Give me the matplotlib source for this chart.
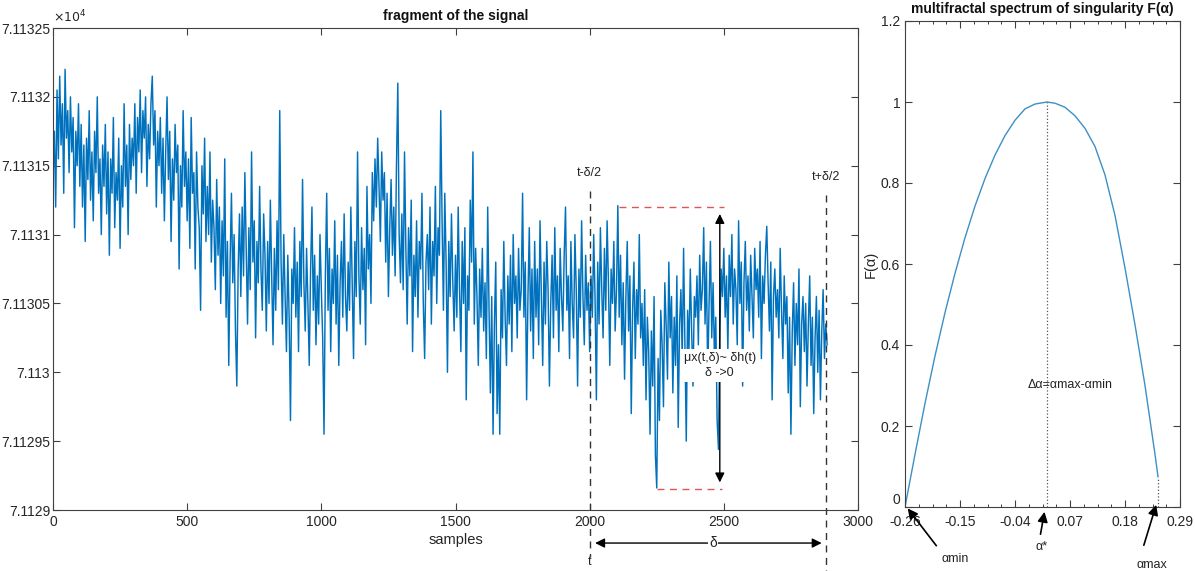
import numpy as np
import matplotlib
matplotlib.use("Agg")
import matplotlib.pyplot as plt
from matplotlib.ticker import AutoMinorLocator

plt.rcParams['font.family'] = ['Liberation Sans', 'DejaVu Sans']

# ---------------- data ----------------
BASE = 71130.0
SAMPLE_STEP = 5
signal_offset = [
    1.40, 1.75, 1.20, 2.05, 1.55, 2.15, 1.65, 1.95, 1.30, 2.20, 1.70, 1.90, 1.45, 2.00, 1.60, 1.85, 1.05, 1.75, 1.50, 1.95,
    1.35, 1.80, 1.20, 1.65, 0.95, 1.70, 1.40, 1.90, 1.25, 1.60, 1.10, 1.75, 1.45, 2.00, 1.30, 1.55, 1.00, 1.65, 1.35, 1.80,
    1.15, 1.60, 0.85, 1.55, 1.30, 1.85, 1.05, 1.45, 1.25, 1.70, 0.90, 1.50, 1.20, 1.95, 1.35, 1.65, 1.00, 1.80, 1.40, 1.70,
    1.50, 1.95, 1.30, 1.85, 1.60, 2.05, 1.45, 1.90, 1.70, 2.00, 1.35, 1.80, 1.55, 1.95, 2.15, 1.65, 1.90, 1.20, 1.75, 1.50,
    1.85, 1.30, 1.70, 1.10, 1.60, 2.00, 1.40, 1.75, 0.95, 1.55, 1.25, 1.80, 1.45, 1.65, 0.75, 1.50, 1.20, 1.90, 1.35, 1.60,
    1.10, 1.55, 0.90, 1.85, 1.30, 1.45, 0.75, 1.60, 1.20, 1.05, 0.45, 1.50, 1.15, 1.70, 0.95, 1.35, 1.00, 1.60, 0.80, 1.25,
    1.05, 0.60, 1.40, 0.85, 1.20, 0.50, 1.10, 0.70, 1.55, 0.40, 0.95, 0.05, 0.80, 1.30, 0.65, 1.00, 0.30, -0.10, 0.75, 1.15,
    0.55, 1.20, 0.70, 1.45, 0.90, 0.35, 1.05, 0.60, 1.60, 0.80, 1.10, 0.25, 0.95, 0.65, 1.35, 0.75, 0.45, 1.15, 0.85, 0.30,
    0.95, 0.50, 1.25, 0.70, 0.20, 0.90, 0.45, 1.10, 0.60, 1.90, 0.80, 0.35, 1.00, 0.55, 0.15, 0.85, 0.40, -0.35, 0.75, 0.50,
    1.05, 0.40, 0.80, 0.15, 0.95, 0.55, 1.40, 0.65, 0.30, 0.90, 0.50, 0.05, 0.75, 1.20, 0.45, 0.85, 0.20, 0.70, 0.35, 1.00,
    0.60, 0.25, -0.45, 0.70, 1.30, 0.45, 0.90, 0.15, 0.75, 0.50, 1.10, 0.35, 0.85, 0.05, 0.65, 0.95, 0.40, 1.15, 0.55, 0.30,
    0.80, 0.45, 1.20, 0.65, 0.10, 0.95, 0.55, 1.60, 0.70, 0.35, 1.05, 0.60, 0.90, 0.20, 1.35, 0.75, 1.00, 0.50, 1.45, 1.10,
    1.55, 1.20, 1.70, 1.35, 0.95, 1.60, 1.25, 1.45, 0.80, 1.30, 0.55, 1.05, 1.40, 0.85, 1.20, 0.70, 1.50, 2.10, 1.00, 0.65,
    1.15, 0.60, 1.60, 0.90, 0.35, 1.05, 0.70, 1.25, 0.15, 0.85, 0.55, 1.10, 0.40, 0.95, 0.75, 1.30, 0.50, 0.10, 0.80, 1.00,
    0.60, 1.20, 0.35, 0.95, 0.70, 1.35, 0.50, 1.05, 0.85, 1.90, 1.10, 0.45, 1.30, 0.80, 0.00, 0.95, 0.55, 1.15, 0.65, 0.30,
    0.85, 0.40, 1.20, 0.60, 0.15, 0.95, 0.50, 1.05, -0.20, 0.70, 0.45, 1.25, 0.80, 1.60, 0.35, 0.90, 0.55, 0.05, 0.75, 0.40,
    0.90, 0.30, 0.65, 0.10, 1.20, 0.45, -0.15, 0.55, -0.45, 0.35, 0.80, -0.30, 0.20, -0.45, 0.60, 0.25, 0.95, 0.40, 0.05, 0.70,
    0.35, 0.85, 0.15, 1.00, 0.50, 0.70, 0.25, 0.90, 0.45, 0.60, 1.30, 0.40, 0.80, -0.20, 0.55, 1.05, 0.30, 0.75, 0.10, 0.95,
    0.40, 0.75, 0.20, 1.10, 0.55, 0.05, 0.80, 0.35, 0.95, 0.60, -0.10, 0.50, 0.85, 0.25, 1.05, 0.45, 0.70, 0.15, 0.90, 0.55,
    0.30, 0.85, 1.20, 0.45, 0.70, 0.10, 0.95, 0.50, 0.25, 1.00, 0.60, -0.10, 0.75, 0.40, 1.10, 0.55, 0.20, 0.85, 0.45, 0.65,
    0.15, 0.70, 0.40, 1.00, 0.55, -0.20, 0.80, 0.35, 1.05, 0.60, 0.25, 0.90, 0.45, 1.10, 0.65, 0.05, 0.75, 0.50, 0.95, 0.30,
    0.60, 1.21, 0.40, 0.85, 0.20, 0.65, -0.05, 0.55, 0.95, 0.30, 0.70, -0.30, 0.45, 0.80, 0.10, 0.60, 0.35, 1.00, 0.25, 0.50,
    0.05, 0.60, -0.20, 0.40, 0.15, -0.45, 0.30, -0.10, 0.55, -0.60, -0.84, 0.10, -0.35, 0.45, 0.20, -0.25, 0.65, 0.35, -0.05, 0.80,
    0.25, 0.55, -0.15, 0.40, 0.05, 0.70, -0.40, 0.35, 0.60, 0.10, 0.90, 0.20, -0.50, 0.45, 0.15, 0.75, 0.30, -0.10, 0.55, 0.40,
    0.70, 0.20, 0.85, 0.45, 0.60, 1.05, 0.35, 0.80, -0.05, 0.50, 0.95, 0.25, 0.65, 0.10, 0.40, -0.35, -0.56, 0.30, 0.75, 0.55,
    0.90, 0.40, 0.70, 0.15, 0.85, 0.55, 1.00, 0.35, 0.75, 0.60, 0.20, 1.10, 0.50, 0.80, -0.10, 0.65, 0.95, 0.45, 0.70, 0.30,
    0.85, 0.55, 0.25, 0.90, 0.60, 0.75, 0.40, 0.95, 0.10, 0.70, 0.50, 0.85, 1.06, 0.65, 0.30, 0.80, -0.20, 0.55, 0.75, 0.40,
    0.60, 0.25, 0.90, 0.45, 0.10, 0.70, 0.35, 0.55, -0.15, 0.40, -0.45, 0.30, 0.65, 0.05, 0.50, 0.20, 0.75, -0.25, 0.35, 0.55,
    0.15, 0.50, -0.10, 0.35, 0.70, 0.05, 0.40, -0.30, 0.25, 0.55, 0.00, 0.45, -0.20, 0.30, 0.60, 0.10, 0.35, 0.20,
]

left_xticks = [0, 500, 1000, 1500, 2000, 2500, 3000]
left_yticks = [71129.0, 71129.5, 71130.0, 71130.5, 71131.0, 71131.5, 71132.0, 71132.5]
left_yticklabels = ['7.1129', '7.11295', '7.113', '7.11305', '7.1131', '7.11315', '7.1132', '7.11325']

# annotation anchors of the left panel
t_left, t_right = 2000, 2880
peak_top = (2108, 2500, 71131.20)       # x start, x end, y
peak_bottom = (2250, 2495, 71129.15)
arrow_x = 2485

# multifractal spectrum
alpha = [-0.260, -0.240, -0.220, -0.200, -0.180, -0.160, -0.140, -0.120, -0.100, -0.080,
         -0.060, -0.040, -0.020, 0.000, 0.024, 0.040, 0.060, 0.080, 0.100, 0.120,
         0.140, 0.160, 0.180, 0.200, 0.220, 0.240, 0.246]
F_alpha = [0.000, 0.130, 0.256, 0.373, 0.480, 0.577, 0.665, 0.743, 0.811, 0.869,
           0.917, 0.955, 0.983, 0.995, 1.000, 0.997, 0.987, 0.966, 0.935, 0.890,
           0.820, 0.720, 0.590, 0.450, 0.300, 0.130, 0.075]
alpha_star = 0.024
alpha_max = 0.246
right_xticks = [-0.26, -0.15, -0.04, 0.07, 0.18, 0.29]
right_yticks = [0, 0.2, 0.4, 0.6, 0.8, 1.0, 1.2]

# ---------------- figure ----------------
W, H = 1195, 571
fig = plt.figure(figsize=(W / 100, H / 100), dpi=100)

axcol = '#404040'
txtcol = '#262626'
blue = '#0072BD'

def style(ax):
    for s in ax.spines.values():
        s.set_color(axcol)
        s.set_linewidth(0.8)
    ax.tick_params(direction='in', top=True, right=True, colors=axcol,
                   labelcolor=txtcol, labelsize=10, length=5, width=0.8)
    ax.tick_params(which='minor', direction='in', top=True, right=True,
                   colors=axcol, length=2.5, width=0.7)

# left panel
ax1 = fig.add_axes([53 / W, 1 - 510 / H, 805 / W, 482 / H])
x = np.arange(len(signal_offset)) * SAMPLE_STEP
y = BASE + np.array(signal_offset)
ax1.plot(x, y, color=blue, lw=1.05)
ax1.set_xlim(0, 3000)
ax1.set_ylim(71129.0, 71132.5)
ax1.set_xticks(left_xticks)
ax1.set_yticks(left_yticks)
ax1.set_yticklabels(left_yticklabels)
style(ax1)
ax1.tick_params(axis='y', pad=2)
ax1.set_xlabel('samples', fontsize=10.5, color=txtcol, labelpad=3)
ax1.set_title('fragment of the signal', fontsize=10, fontweight='bold', color='#111111', pad=6)
ax1.text(0.0, 1.005, r'$\times10^4$', transform=ax1.transAxes, fontsize=9,
         color=txtcol, ha='left', va='bottom')

# dashed vertical lines
ax1.plot([t_left, t_left], [71131.32, 71128.66], ls=(0, (5, 4)), color='#333333', lw=1.0, clip_on=False)
ax1.plot([t_right, t_right], [71131.29, 71128.56], ls=(0, (5, 4)), color='#333333', lw=1.0, clip_on=False)
ax1.text(t_left, 71131.45, 't-δ/2', fontsize=9, ha='center', va='center', color='#222222')
ax1.text(t_right, 71131.42, 't+δ/2', fontsize=9, ha='center', va='center', color='#222222')
ax1.text(t_left, 71128.62, 't', fontsize=9, ha='center', va='center', color='#222222', clip_on=False)

# red dashed lines
ax1.plot([peak_top[0], peak_top[1]], [peak_top[2], peak_top[2]], ls=(0, (5, 4)), color='#e05555', lw=1.0)
ax1.plot([peak_bottom[0], peak_bottom[1]], [peak_bottom[2], peak_bottom[2]], ls=(0, (5, 4)), color='#e05555', lw=1.0)

# vertical double arrow
ax1.annotate('', xy=(arrow_x, peak_top[2] - 0.03), xytext=(arrow_x, peak_bottom[2] + 0.03),
             arrowprops=dict(arrowstyle='<|-|>', color='black', lw=1.0, mutation_scale=14))
ax1.text(arrow_x, 71130.05, 'μx(t,δ)~ δh(t)\nδ ->0', fontsize=9, ha='center', va='center',
         color='#222222', linespacing=1.3,
         bbox=dict(boxstyle='square,pad=0.25', fc='white', ec='none'))

# horizontal delta arrow below axis
ax1.annotate('', xy=(t_right - 5, 71128.76), xytext=(t_left + 10, 71128.76),
             arrowprops=dict(arrowstyle='<|-|>', color='black', lw=1.0, mutation_scale=14),
             annotation_clip=False)
ax1.text((t_left + t_right) / 2 + 20, 71128.76, 'δ', fontsize=10, ha='center', va='center',
         color='#222222', clip_on=False,
         bbox=dict(boxstyle='square,pad=0.1', fc='white', ec='none'))

# right panel
ax2 = fig.add_axes([905 / W, 1 - 507 / H, 275 / W, 486 / H])
ax2.plot(alpha, F_alpha, color='#3d8fc6', lw=1.0)
ax2.set_xlim(-0.26, 0.29)
ax2.set_ylim(0, 1.2)
ax2.set_xticks(right_xticks)
ax2.set_xticklabels(['%g' % v for v in right_xticks])
ax2.set_yticks(right_yticks)
ax2.set_yticklabels(['%g' % v for v in right_yticks])
ax2.xaxis.set_minor_locator(AutoMinorLocator(4))
style(ax2)
ax2.tick_params(axis='x', pad=6)
ax2.set_ylabel('F(α)', fontsize=10.5, color=txtcol, labelpad=2)
ax2.set_title('multifractal spectrum of singularity F(α)', fontsize=10, fontweight='bold',
              color='#111111', pad=6)
# lift the "0" label slightly so it sits above the "-0.26" label, as in the reference
for lbl in ax2.get_yticklabels():
    if lbl.get_text() == '0':
        lbl.set_verticalalignment('bottom')

ax2.plot([alpha_star, alpha_star], [0, 1.0], ls=':', color='#555555', lw=0.9)
ax2.plot([alpha_max, alpha_max], [0, 0.075], ls=':', color='#555555', lw=0.9)
ax2.text(0.07, 0.30, 'Δα=αmax-αmin', fontsize=9, ha='center', va='center', color='#222222')

arr = dict(arrowstyle='-|>', color='black', lw=1.2, mutation_scale=15)
ax2.annotate('', xy=(-0.258, 0.002), xytext=(-0.194, -0.101), arrowprops=arr, annotation_clip=False)
ax2.text(-0.16, -0.128, 'αmin', fontsize=9, ha='center', va='center', color='#222222', clip_on=False)
ax2.annotate('', xy=(0.020, -0.005), xytext=(0.010, -0.074), arrowprops=arr, annotation_clip=False)
ax2.text(0.014, -0.099, 'α*', fontsize=9, ha='center', va='center', color='#222222', clip_on=False)
ax2.annotate('', xy=(0.244, 0.012), xytext=(0.216, -0.101), arrowprops=arr, annotation_clip=False)
ax2.text(0.234, -0.143, 'αmax', fontsize=9, ha='center', va='center', color='#222222', clip_on=False)

fig.savefig('out.png', dpi=100)
